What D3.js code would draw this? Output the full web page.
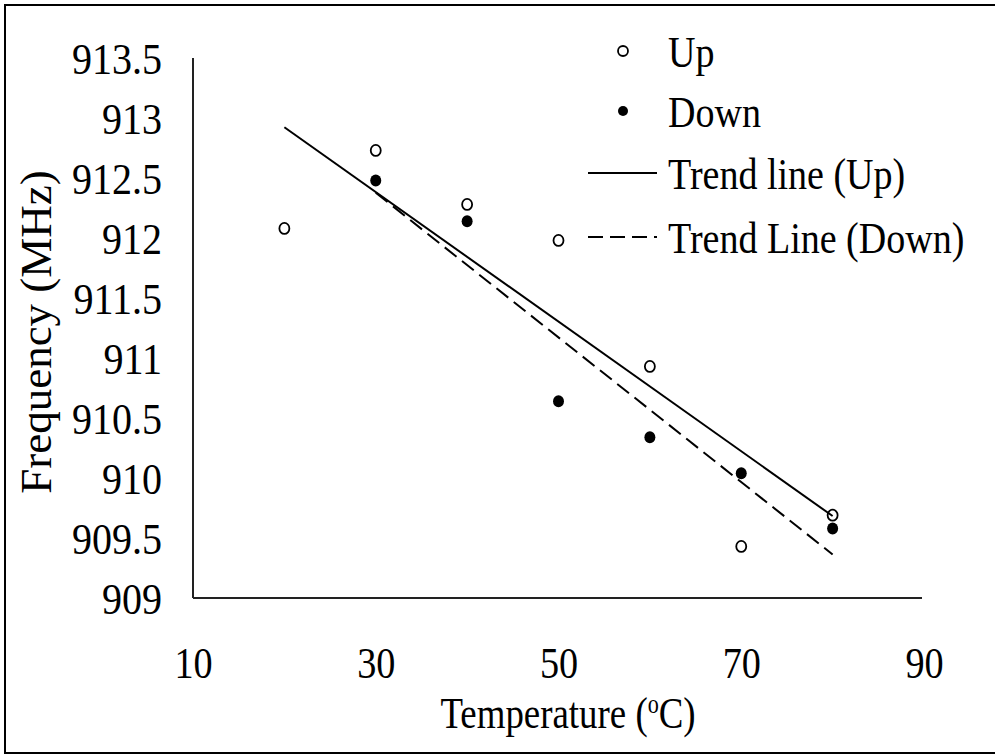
<!DOCTYPE html>
<html>
<head>
<meta charset="utf-8">
<script src="https://cdn.jsdelivr.net/npm/d3@7"></script>
<style>
  body { margin: 0; background: #fff; overflow: hidden; }
</style>
</head>
<body>
<div id="chart"></div>
<script>
// DATA //////////////////////////////////////////////////////////
var upTemps = [20, 30, 40, 50, 60, 70, 80];
var upFreq = [912.08, 912.73, 912.28, 911.98, 910.93, 909.43, 909.69];
var downTemps = [30, 40, 50, 60, 70, 80];
var downFreq = [912.48, 912.14, 910.64, 910.34, 910.04, 909.58];
var xTicks = [10, 30, 50, 70, 90];
var yTicks = [909, 909.5, 910, 910.5, 911, 911.5, 912, 912.5, 913, 913.5];
var legendLabels = ["Up", "Down", "Trend line (Up)", "Trend Line (Down)"];

// SETUP /////////////////////////////////////////////////////////
var width = 995, height = 755;
var fontSize = 45;
var serif = "'Liberation Serif', serif";

var svg = d3.select("#chart").append("svg")
  .attr("width", width).attr("height", height);

// outer frame, its right side falls just past the picture edge
svg.append("rect").attr("x", 5).attr("y", 5)
  .attr("width", 1000).attr("height", 748)
  .attr("fill", "none").attr("stroke", "#000").attr("stroke-width", 2);

var x = d3.scaleLinear().domain([10, 90]).range([193, 924]);
var y = d3.scaleLinear().domain([909, 913.5]).range([598, 58]);

// squeezed serif text, like the original
function label(g, px, py, str, anchor, squeeze) {
  return g.append("text")
    .attr("transform", "translate(" + px + "," + py + ") scale(" + squeeze + ",1)")
    .attr("text-anchor", anchor || "start")
    .style("font-family", serif)
    .style("font-size", fontSize + "px")
    .attr("fill", "#000")
    .text(str);
}

// AXES //////////////////////////////////////////////////////////
svg.append("line").attr("x1", x(10)).attr("x2", 922)
  .attr("y1", y(909)).attr("y2", y(909))
  .attr("stroke", "#222").attr("stroke-width", 2);
svg.append("line").attr("x1", x(10)).attr("x2", x(10))
  .attr("y1", y(909)).attr("y2", y(913.5))
  .attr("stroke", "#222").attr("stroke-width", 2);

var yAxis = d3.axisLeft(y).tickValues(yTicks).tickSize(0)
  .tickFormat(function(d){ return String(d); });
var gy = svg.append("g").attr("transform", "translate(" + x(10) + ",0)").call(yAxis);
gy.select(".domain").remove();
gy.selectAll(".tick text").attr("dy", null).attr("x", 0).attr("y", 0)
  .attr("transform", "translate(-31,15) scale(0.89,1)");

var xAxis = d3.axisBottom(x).tickValues(xTicks).tickSize(0).tickFormat(d3.format("d"));
var gx = svg.append("g").attr("transform", "translate(0," + y(909) + ")").call(xAxis);
gx.select(".domain").remove();
gx.selectAll(".tick text").attr("dy", null).attr("y", 0)
  .attr("transform", "translate(0,80) scale(0.85,1)");

svg.selectAll(".tick text")
  .style("font-family", serif)
  .style("font-size", fontSize + "px")
  .attr("fill", "#000");

// AXIS TITLES ///////////////////////////////////////////////////
var xt = label(svg, 568, 728, "Temperature (", "middle", 0.82);
xt.append("tspan").attr("dy", -15).style("font-size", "27px").text("o");
xt.append("tspan").attr("dy", 15).text("C)");

svg.append("text")
  .attr("transform", "translate(51,332) rotate(-90)")
  .attr("text-anchor", "middle")
  .style("font-family", serif)
  .style("font-size", fontSize + "px")
  .attr("fill", "#000")
  .text("Frequency (MHz)");

// TREND LINES ///////////////////////////////////////////////////
function fit(xs, ys) {
  var mx = d3.mean(xs), my = d3.mean(ys);
  var sxy = d3.sum(xs, function(v, i){ return (v - mx) * (ys[i] - my); });
  var sxx = d3.sum(xs, function(v){ return (v - mx) * (v - mx); });
  var b = sxy / sxx;
  return function(t){ return my + b * (t - mx); };
}
var upFit = fit(upTemps, upFreq);
var downFit = fit(downTemps, downFreq);
var line = d3.line().x(function(d){ return x(d[0]); }).y(function(d){ return y(d[1]); });

svg.append("path")
  .attr("d", line(d3.extent(upTemps).map(function(t){ return [t, upFit(t)]; })))
  .attr("fill", "none").attr("stroke", "#000").attr("stroke-width", 2);
svg.append("path")
  .attr("d", line(d3.extent(downTemps).map(function(t){ return [t, downFit(t)]; })))
  .attr("fill", "none").attr("stroke", "#000").attr("stroke-width", 2)
  .attr("stroke-dasharray", "15,7");

// POINTS ////////////////////////////////////////////////////////
svg.append("g").selectAll("ellipse").data(downTemps)
  .enter().append("ellipse")
  .attr("cx", function(d){ return x(d); })
  .attr("cy", function(d, i){ return y(downFreq[i]); })
  .attr("rx", 5.5).attr("ry", 6).attr("fill", "#000");

svg.append("g").selectAll("ellipse").data(upTemps)
  .enter().append("ellipse")
  .attr("cx", function(d){ return x(d); })
  .attr("cy", function(d, i){ return y(upFreq[i]); })
  .attr("rx", 5).attr("ry", 5.5).attr("fill", "none").attr("stroke", "#000").attr("stroke-width", 1.8);

// LEGEND ////////////////////////////////////////////////////////
var legendY = [51, 111, 173, 237];
var lg = svg.append("g");
lg.append("circle").attr("cx", 623).attr("cy", legendY[0]).attr("r", 5)
  .attr("fill", "#fff").attr("stroke", "#000").attr("stroke-width", 1.8);
lg.append("circle").attr("cx", 623).attr("cy", legendY[1]).attr("r", 5).attr("fill", "#000");
lg.append("line").attr("x1", 588).attr("x2", 657).attr("y1", legendY[2]).attr("y2", legendY[2])
  .attr("stroke", "#000").attr("stroke-width", 2);
lg.append("line").attr("x1", 588).attr("x2", 657).attr("y1", legendY[3]).attr("y2", legendY[3])
  .attr("stroke", "#000").attr("stroke-width", 2).attr("stroke-dasharray", "15,7");
legendLabels.forEach(function(s, i){ label(lg, 668, legendY[i] + 16, s, "start", 0.845); });
</script>
</body>
</html>
